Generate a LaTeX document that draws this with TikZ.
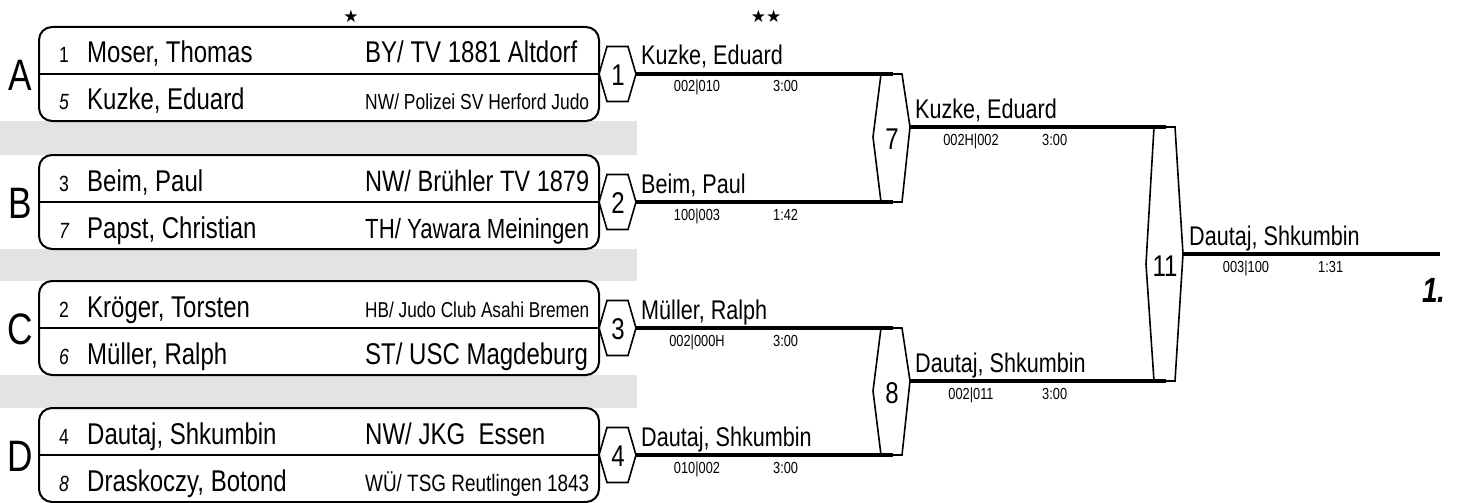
\documentclass[tikz,border=0pt]{standalone}
\usepackage{fontspec}
\setmainfont{Liberation Sans}[FakeStretch=0.8]
\newfontfamily\symfont{DejaVu Sans}
\usepackage{graphicx}
\newsavebox\clubbox
\newcommand\clubfit[1]{\sbox\clubbox{#1}\ifdim\wd\clubbox>224pt\resizebox{224pt}{!}{\usebox\clubbox}\else\usebox\clubbox\fi}
\newcommand\smallhex[3]{%
  \coordinate (#1l) at (599,#2);
  \coordinate (#1tl) at (607,#2-27.5);
  \coordinate (#1tr) at (628,#2-27.5);
  \coordinate (#1r) at (636,#2);
  \coordinate (#1br) at (628,#2+27.5);
  \coordinate (#1bl) at (607,#2+27.5);
  \draw[hexline] (#1l) -- (#1tl) -- (#1tr) -- (#1r) -- (#1br) -- (#1bl) -- cycle;
  \node[hexnum] (#1num) at (618,#2+1) {#3};}
\newcommand\bighex[6]{% name, xTL, top, bottom, out, number
  \coordinate (#1l) at (#2-8,#5+10);
  \coordinate (#1tl) at (#2,#3);
  \coordinate (#1tr) at (#2+21,#3);
  \coordinate (#1r) at (#2+29,#5);
  \coordinate (#1br) at (#2+21,#4);
  \coordinate (#1bl) at (#2,#4);
  \coordinate (#1tm) at (#2+12,#3);
  \coordinate (#1bm) at (#2+12,#4);
  \draw[hexline] (#1l) -- (#1tl) -- (#1tr) -- (#1r) -- (#1br) -- (#1bl) -- cycle;
  \node[hexnum] (#1num) at (#2+11,#5+12) {#6};}
\begin{document}
\begin{tikzpicture}[x=1pt,y=-1pt,
  entry/.style={draw, line width=2pt, rounded corners=13pt, minimum width=560pt, minimum height=94pt, inner sep=0pt},
  bar/.style={fill=black!11, draw=none},
  hexline/.style={line width=1.6pt, line join=miter},
  wline/.style={line width=3.2pt},
  divline/.style={line width=2pt},
  hexnum/.style={inner sep=0pt, font=\fontsize{30}{30}\selectfont},
  pool/.style={inner sep=0pt, font=\fontsize{44}{44}\selectfont},
  nm/.style={anchor=base west, inner sep=0pt, font=\fontsize{30}{32}\selectfont},
  wn/.style={anchor=base west, inner sep=0pt, font=\fontsize{27}{30}\selectfont},
  seedup/.style={anchor=base, inner sep=0pt, font=\fontsize{22}{22}\selectfont},
  seedit/.style={anchor=base, inner sep=0pt, font=\fontsize{22}{22}\selectfont\itshape},
  score/.style={anchor=base, inner sep=0pt, font=\fontsize{16}{16}\selectfont},
  tm/.style={anchor=base west, inner sep=0pt, font=\fontsize{16}{16}\selectfont},
  star/.style={inner sep=0pt, font=\symfont\fontsize{17}{17}\selectfont}]
\useasboundingbox (0,0) rectangle (1465,503);
% gray separators
\fill[bar] (0,121) rectangle (637,155);
\fill[bar] (0,249) rectangle (637,281);
\fill[bar] (0,375) rectangle (637,408);
% stars
\node[star] (st1) at (351,16) {★};
\node[star] (st2) at (766,16) {★★};
% entry boxes
\node[entry] (boxA) at (319,74) {};
\node[entry] (boxB) at (319,202) {};
\node[entry] (boxC) at (319,328) {};
\node[entry] (boxD) at (319,455) {};
\foreach \b in {A,B,C,D}{\draw[divline] (box\b.west) -- (box\b.east);}
% pool letters
\node[pool] (LA) at (20,75) {A};
\node[pool] (LB) at (20,203) {B};
\node[pool] (LC) at (20,329) {C};
\node[pool] (LD) at (20,456) {D};
% entries A
\node[seedup] (sA1) at (64,63) {1};
\node[nm] (nA1) at (87,63) {Moser, Thomas};
\node[nm] (cA1) at (365,63) {\clubfit{BY/ TV 1881 Altdorf}};
\node[seedit] (sA2) at (64,110) {5};
\node[nm] (nA2) at (87,110) {Kuzke, Eduard};
\node[nm] (cA2) at (365,110) {\clubfit{NW/ Polizei SV Herford Judo}};
% entries B
\node[seedup] (sB1) at (64,191) {3};
\node[nm] (nB1) at (87,191) {Beim, Paul};
\node[nm] (cB1) at (365,191) {\clubfit{NW/ Brühler TV 1879}};
\node[seedit] (sB2) at (64,238) {7};
\node[nm] (nB2) at (87,238) {Papst, Christian};
\node[nm] (cB2) at (365,238) {\clubfit{TH/ Yawara Meiningen}};
% entries C
\node[seedup] (sC1) at (64,317) {2};
\node[nm] (nC1) at (87,317) {Kröger, Torsten};
\node[nm] (cC1) at (365,317) {\clubfit{HB/ Judo Club Asahi Bremen}};
\node[seedit] (sC2) at (64,364) {6};
\node[nm] (nC2) at (87,364) {Müller, Ralph};
\node[nm] (cC2) at (365,364) {\clubfit{ST/ USC Magdeburg}};
% entries D
\node[seedup] (sD1) at (64,444) {4};
\node[nm] (nD1) at (87,444) {Dautaj, Shkumbin};
\node[nm] (cD1) at (365,444) {\clubfit{NW/ JKG\ \ Essen}};
\node[seedit] (sD2) at (64,491) {8};
\node[nm] (nD2) at (87,491) {Draskoczy, Botond};
\node[nm] (cD2) at (365,491) {\clubfit{WÜ/ TSG Reutlingen 1843}};
% first round hexagons
\smallhex{h1}{74}{1}
\smallhex{h2}{202}{2}
\smallhex{h3}{328}{3}
\smallhex{h4}{455}{4}
% second round hexagons
\bighex{h7}{881}{74}{202}{127}{7}
\bighex{h8}{881}{328}{455}{381}{8}
\bighex{h11}{1154}{127}{381}{254}{11}
\coordinate (fin) at (1440,254);
% lines
\draw[wline] (h1r) -- (h7tm);
\draw[wline] (h2r) -- (h7bm);
\draw[wline] (h3r) -- (h8tm);
\draw[wline] (h4r) -- (h8bm);
\draw[wline] (h7r) -- (h11tm);
\draw[wline] (h8r) -- (h11bm);
\draw[wline] (h11r) -- (fin);
% results round 1
\node[wn] (w1) at (641,65) {Kuzke, Eduard};
\node[score] (sc1) at (697,92) {002|010};
\node[tm] (tm1) at (773,92) {3:00};
\node[wn] (w2) at (641,193) {Beim, Paul};
\node[score] (sc2) at (697,220) {100|003};
\node[tm] (tm2) at (773,220) {1:42};
\node[wn] (w3) at (641,319) {Müller, Ralph};
\node[score] (sc3) at (697,346) {002|000H};
\node[tm] (tm3) at (773,346) {3:00};
\node[wn] (w4) at (641,446) {Dautaj, Shkumbin};
\node[score] (sc4) at (697,473) {010|002};
\node[tm] (tm4) at (773,473) {3:00};
% results round 2
\node[wn] (w7) at (915,118) {Kuzke, Eduard};
\node[score] (sc7) at (971,145) {002H|002};
\node[tm] (tm7) at (1042,145) {3:00};
\node[wn] (w8) at (915,372) {Dautaj, Shkumbin};
\node[score] (sc8) at (971,399) {002|011};
\node[tm] (tm8) at (1042,399) {3:00};
% final
\node[wn] (w11) at (1189,245) {Dautaj, Shkumbin};
\node[score] (sc11) at (1246,272) {003|100};
\node[tm] (tm11) at (1318,272) {1:31};
\node[anchor=base west, inner sep=0pt, font=\fontsize{35}{35}\selectfont\bfseries\itshape] (place) at (1422,302) {1.};
\end{tikzpicture}
\end{document}
